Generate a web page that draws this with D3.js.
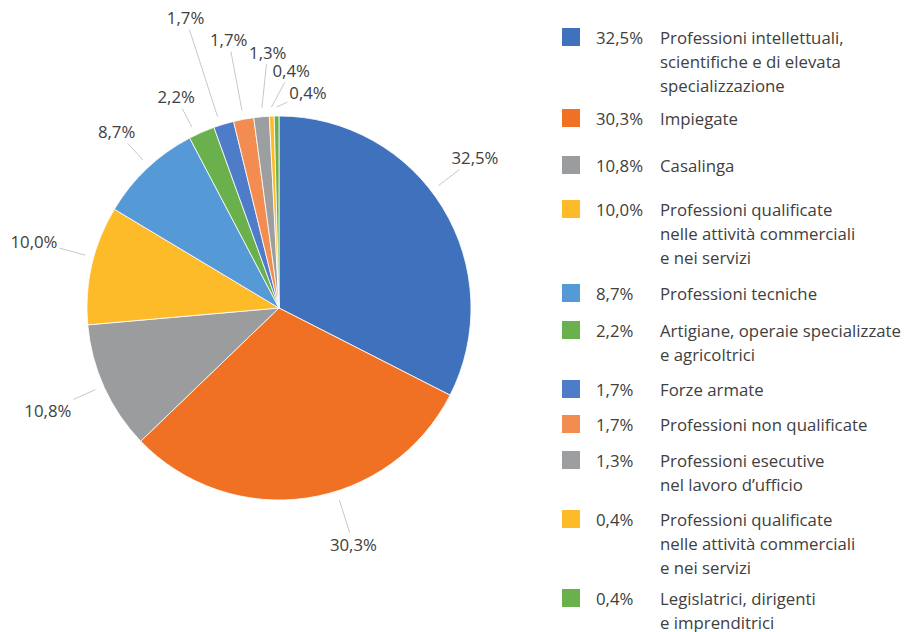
<!DOCTYPE html>
<html>
<head>
<meta charset="utf-8">
<script src="https://cdn.jsdelivr.net/npm/d3@7"></script>
<style>
  body { margin: 0; background: #fff; }
  svg text { font-family: "Open Sans", Lato, sans-serif; fill: #404040; }
</style>
</head>
<body>
<svg id="chart" width="920" height="632"></svg>
<script>
// data
const labels = [
  ['Professioni intellettuali,', 'scientifiche e di elevata', 'specializzazione'],
  ['Impiegate'],
  ['Casalinga'],
  ['Professioni qualificate', 'nelle attività commerciali', 'e nei servizi'],
  ['Professioni tecniche'],
  ['Artigiane, operaie specializzate', 'e agricoltrici'],
  ['Forze armate'],
  ['Professioni non qualificate'],
  ['Professioni esecutive', 'nel lavoro d\u2019ufficio'],
  ['Professioni qualificate', 'nelle attività commerciali', 'e nei servizi'],
  ['Legislatrici, dirigenti', 'e imprenditrici']
];
const values = [32.5, 30.3, 10.8, 10.0, 8.7, 2.2, 1.7, 1.7, 1.3, 0.4, 0.4];
const colors = ['#3F71BC', '#F07123', '#9A9C9D', '#FDBB2A', '#559AD6', '#6AB04D',
                '#4F7CC9', '#F38C50', '#9C9E9F', '#FDBB2A', '#6AB04D'];

// layout of the outside labels (Excel moved some of them): turn from slice middle (deg), distance from centre
const labelTurn = [-6, -9, 0.5, 2.3, 0.8, -2.2, -1.1, 0, 2.7, 5.1, 8.4];
const labelDist = [247, 248, 253, 254, 240, 235, 305, 273, 256, 238, 217];
// legend row positions (first line of each entry)
const legendRowY = [37, 118, 165, 209, 293, 330, 389, 424, 460, 519, 598];

const fmt = v => d3.format('.1f')(v).replace('.', ',') + '%';
const fontSize = '16.8px';

const svg = d3.select('#chart');
const cx = 279, cy = 308, R = 192;
const toRad = Math.PI / 180;

const pie = d3.pie().sort(null).value(d => d)(values);
const arc = d3.arc().innerRadius(0).outerRadius(R);

const g = svg.append('g').attr('transform', `translate(${cx},${cy})`);

g.selectAll('path.slice').data(pie)
  .enter().append('path')
  .attr('class', 'slice')
  .attr('d', arc)
  .attr('fill', (d, i) => colors[i])
  .attr('stroke', '#fff')
  .attr('stroke-width', 0.8);

const polar = (a, r) => [r * Math.sin(a), -r * Math.cos(a)];

// labels and leader lines
pie.forEach((d, i) => {
  const mid = (d.startAngle + d.endAngle) / 2;
  const la = mid + labelTurn[i] * toRad;
  const [lx, ly] = polar(la, labelDist[i]);

  const txt = g.append('text')
    .attr('x', lx).attr('y', ly)
    .attr('text-anchor', 'middle')
    .attr('dominant-baseline', 'central')
    .style('font-size', fontSize)
    .text(fmt(values[i]));
  const w = txt.node().getComputedTextLength();

  const pad = Math.min(2 * toRad, (d.endAngle - d.startAngle) / 2);
  const sa = Math.max(d.startAngle + pad, Math.min(d.endAngle - pad, la));
  const [sx, sy] = polar(sa, R + 9);
  const dx = sx - lx, dy = sy - ly;
  const hw = w / 2 + 2, hh = 12;
  const t = Math.min(hw / Math.abs(dx || 1e-6), hh / Math.abs(dy || 1e-6));
  const ex = lx + dx * t, ey = ly + dy * t;
  g.append('line')
    .attr('x1', sx).attr('y1', sy).attr('x2', ex).attr('y2', ey)
    .attr('stroke', '#c8c8c8').attr('stroke-width', 1);
});

// legend
const legend = svg.append('g').attr('class', 'legend');
const rows = legend.selectAll('g.row').data(values)
  .enter().append('g')
  .attr('class', 'row')
  .attr('transform', (d, i) => `translate(0,${legendRowY[i]})`);

rows.append('rect')
  .attr('x', 562).attr('y', -9)
  .attr('width', 18).attr('height', 18)
  .attr('fill', (d, i) => colors[i]);

rows.append('text')
  .attr('x', 596).attr('y', 0)
  .attr('dominant-baseline', 'central')
  .style('font-size', fontSize)
  .text(d => fmt(d));

rows.each(function (d, i) {
  const t = d3.select(this).append('text')
    .attr('x', 660).attr('y', 0)
    .attr('dominant-baseline', 'central')
    .style('font-size', fontSize);
  labels[i].forEach((line, k) => {
    t.append('tspan').attr('x', 660).attr('y', k * 24).text(line);
  });
});
</script>
</body>
</html>
